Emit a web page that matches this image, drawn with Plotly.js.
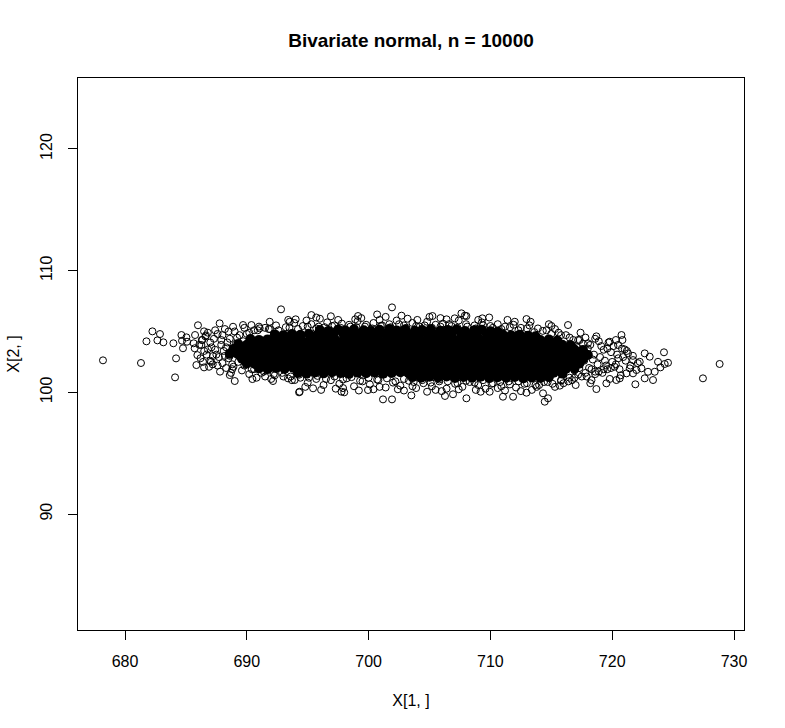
<!DOCTYPE html>
<html>
<head>
<meta charset="utf-8">
<script src="https://cdn.plot.ly/plotly-3.0.1.min.js"></script>
<style>html,body{margin:0;padding:0;background:#fff;}#plot{width:785px;height:728px;}</style>
</head>
<body>
<div id="plot"></div>
<script>
// ---- Data (estimated) ----
const chartTitle = 'Bivariate normal, n = 10000';
const xLabel = 'X[1, ]';
const yLabel = 'X[2, ]';
const xTicks = [680, 690, 700, 710, 720, 730];
const yTicks = [90, 100, 110, 120];
const xRange = [676.14, 730.82];
const yRange = [80.47, 125.83];

// isolated points around the cloud
const outX = [678.19,681.31,684.11,684.19,682.25,681.76,682.87,682.66,683.15,683.97,684.63,684.76,684.68,685.04,685.09,685.99,685.75,686.49,686.65,685.64,685.72,686.35,686.27,685.94,685.86,686.49,686.81,687.22,687.06,687.77,692.81,694.29,689.01,688.60,690.46,692.15,693.38,693.93,691.88,693.52,694.01,688.87,689.69,690.38,691.06,
701.92,705.24,707.62,708.03,709.34,707.07,699.13,695.30,712.96,701.18,701.92,706.27,706.93,708.03,703.51,711.03,711.86,694.34,695.44,697.77,699.95,709.94,712.96,
728.82,727.45,724.25,724.58,724.31,723.96,722.67,723.08,723.35,722.67,721.90,718.70,714.46,714.73,714.32,716.37,715.01,720.76,720.84,719.80,722.26,721.99,721.44,721.17,721.71,720.62,720.34,719.52,722.40,722.94,723.49,723.76,721.30,721.71,720.48,721.03,717.33,718.01];
const outY = [102.63,102.41,101.23,102.79,105.01,104.19,104.79,104.27,104.11,104.03,104.71,103.62,104.24,104.52,104.16,105.51,104.71,105.01,104.68,104.03,103.62,104.30,103.89,103.06,102.24,102.05,103.53,102.98,102.51,105.67,106.82,100.00,100.93,101.42,101.09,100.93,101.15,101.01,105.80,105.80,106.00,105.39,105.53,105.53,105.26,
106.98,106.27,106.49,106.27,106.08,106.08,106.27,106.35,106.02,99.42,99.42,99.70,99.84,99.51,99.75,99.64,99.64,100.05,100.33,100.05,100.19,100.05,99.97,
102.33,101.15,103.29,102.43,102.33,102.05,103.20,102.93,101.01,101.15,100.66,100.27,99.23,99.51,99.92,105.53,105.45,104.71,104.30,104.16,102.51,101.83,101.97,101.56,101.56,101.15,101.01,100.74,101.97,101.69,101.69,102.51,103.20,102.65,103.89,103.53,104.30,104.03];

// ragged edge of the dense band
const edgeX = [691.5,692.4,693.2,693.9,694.6,695.3,695.9,696.6,697.2,697.8,698.5,699.1,699.8,700.4,701.0,701.7,702.3,702.9,703.6,704.2,704.8,705.5,706.1,706.8,707.4,708.0,708.7,709.3,710.0,710.6,711.2,711.9,712.5,713.2,713.9,714.6,715.3,698.9,705.9,700.9,709.0,694.9,703.2,712.0,696.0,
693.0,693.7,694.4,695.0,695.7,696.3,696.9,697.6,698.2,698.8,699.5,700.1,700.7,701.4,702.0,702.6,703.3,703.9,704.5,705.2,705.8,706.4,707.1,707.7,708.3,709.0,709.6,710.2,710.9,711.5,712.1,712.8,713.4,714.0,714.7,715.3,716.0,716.7,697.3,700.4,702.9,706.0,708.8,711.2,698.0,704.8,
686.8,687.3,687.1,687.5,687.0,687.6,688.0,688.2,688.4,688.1,688.5,688.3,688.7,689.0,689.2,689.4,689.0,689.3,689.6,689.8,690.0,690.2,690.4,690.6,691.0,691.2,691.5,691.9,692.3,686.5,686.9,686.3,687.8,688.8,688.6,689.7,687.9,686.2,687.4,690.8,692.0,
716.2,716.8,717.1,716.6,717.3,716.9,717.5,717.8,718.2,717.9,718.4,718.1,718.6,718.9,719.3,719.0,719.5,719.2,719.8,720.1,720.4,720.0,720.6,720.9,721.2,720.7,721.5,718.7,717.4,716.4,715.6,719.7,718.3,720.3,721.7,722.1,715.8,716.0,
690.2,690.9,691.8,692.6,693.5,694.2,695.0,695.7,696.4,697.0,697.7,698.4,699.0,699.7,700.3,701.1,701.8,702.5,703.1,703.9,704.6,705.2,705.9,706.6,707.3,708.1,708.8,709.4,710.2,710.9,711.6,712.3,713.0,713.6,714.3,715.0,715.8,716.5,717.2,689.4,
690.6,691.4,692.2,692.9,693.6,694.3,695.1,695.8,696.5,697.2,697.9,698.6,699.3,700.0,700.8,701.5,702.2,702.9,703.7,704.4,705.1,705.8,706.5,707.3,708.0,708.7,709.4,710.1,710.8,711.6,712.3,713.0,713.7,714.4,715.1,715.8,716.5,717.2,717.9,718.6,719.3,
693.4,695.7,697.5,699.4,701.4,702.7,704.0,705.0,706.4,707.9,709.9,711.4,713.3,714.8,696.9,700.7,
694.8,696.1,697.9,699.2,700.9,702.4,703.6,705.5,707.4,709.2,710.6,712.5,713.8,715.7,717.0,718.2,
686.1,686.6,687.0,687.4,687.7,688.0,688.3,688.6,688.9,689.2,689.5,689.8,686.7,687.2,687.9,688.5,689.1,689.7,690.1,686.4,687.6,688.2,688.8,689.4,
716.4,716.7,717.0,717.3,717.7,718.0,718.3,718.5,718.8,719.1,719.4,719.6,719.9,720.2,720.5,720.8,721.1,717.6,718.9,719.6,720.3,716.9,717.8,718.6,719.9];
const edgeY = [105.30,105.50,105.35,105.70,105.45,105.60,105.40,105.75,105.50,105.65,105.40,105.85,105.55,105.70,105.45,105.60,105.90,105.50,105.70,105.40,105.80,105.55,105.65,105.45,105.90,105.60,105.50,105.75,105.45,105.60,105.40,105.55,105.30,105.50,105.25,105.10,105.20,106.00,106.10,105.95,105.95,105.90,106.05,105.80,106.05,
101.30,101.00,101.20,100.80,101.10,100.60,101.00,100.70,101.15,100.50,100.90,100.65,101.05,100.40,100.80,100.55,100.95,100.35,100.75,100.50,100.90,100.30,100.70,100.45,100.85,100.60,100.30,100.75,100.50,100.90,100.40,100.70,100.20,100.60,100.85,100.45,100.75,101.00,100.30,100.25,100.15,100.10,100.20,100.15,100.00,100.05,
104.90,104.40,103.70,103.10,102.60,102.20,104.70,105.20,104.10,103.40,102.80,102.00,101.60,105.00,104.50,103.80,103.20,102.50,101.80,105.30,104.80,101.50,101.90,105.10,105.40,101.60,101.30,105.20,101.40,103.40,102.10,104.30,101.70,102.30,103.00,104.20,103.90,102.80,105.10,101.20,101.10,
104.70,104.30,103.70,103.10,102.40,101.80,101.30,104.50,103.90,103.20,102.70,102.00,101.50,104.20,103.50,102.90,102.20,101.60,101.10,103.80,103.10,102.50,101.90,102.90,103.40,101.40,102.20,104.60,104.90,100.90,104.90,104.10,101.00,104.30,103.00,102.40,101.00,102.00,
104.90,105.10,105.20,105.10,105.30,105.20,105.40,105.25,105.35,105.45,105.30,105.55,105.35,105.40,105.25,105.50,105.35,105.60,105.30,105.45,105.50,105.30,105.40,105.60,105.30,105.40,105.25,105.50,105.30,105.20,105.35,105.10,105.25,104.95,105.05,104.80,104.70,104.50,104.30,104.70,
101.90,101.70,101.50,101.60,101.30,101.45,101.20,101.35,101.10,101.30,101.05,101.25,100.95,101.20,101.00,101.15,100.90,101.10,100.85,101.00,100.80,101.05,100.90,100.75,100.95,100.80,101.00,100.70,100.85,100.65,100.90,100.75,100.60,100.85,100.70,100.95,101.20,101.45,101.30,101.70,101.90,
105.95,106.15,105.95,106.10,106.20,106.30,105.95,106.20,106.00,106.30,106.15,105.95,105.80,105.60,106.25,106.40,
100.45,100.20,100.35,100.15,100.45,100.25,100.50,100.20,100.25,100.05,100.35,100.10,100.45,100.55,100.60,100.75,
103.90,104.60,104.10,103.50,102.90,102.40,103.70,104.40,102.10,103.50,102.90,102.20,103.10,102.30,104.30,105.00,104.00,103.50,102.60,102.50,104.80,103.00,101.90,103.00,
103.90,102.80,103.40,102.00,102.60,103.60,101.90,103.10,102.30,103.80,102.60,101.90,103.30,102.10,102.80,103.60,102.60,104.00,101.70,103.60,102.30,101.20,101.60,104.40,102.00];

// solid black core of the band (overlapping points)
const coreX = [
696.0,696.7,697.5,698.1,698.8,699.6,700.2,700.9,701.7,702.3,703.0,703.8,704.4,705.1,705.9,706.5,707.2,707.9,708.7,709.3,710.0,710.6,
692.3,693.0,693.7,694.4,695.1,695.8,696.4,697.1,697.9,698.6,699.3,700.0,700.6,701.3,702.0,702.7,703.4,704.1,704.8,705.4,706.2,706.8,707.6,708.3,708.9,709.7,710.3,711.0,711.7,712.4,713.1,713.7,
690.3,691.0,691.7,692.4,693.1,693.8,694.5,695.2,695.9,696.6,697.3,698.0,698.7,699.4,700.1,700.8,701.5,702.2,702.9,703.6,704.3,705.0,705.7,706.4,707.1,707.8,708.5,709.2,709.9,710.6,711.3,712.0,712.7,713.4,714.1,714.8,715.5,
689.3,690.0,690.7,691.4,692.1,692.8,693.5,694.2,694.9,695.6,696.3,697.0,697.7,698.4,699.1,699.8,700.5,701.2,701.9,702.6,703.3,704.0,704.7,705.4,706.1,706.8,707.5,708.2,708.9,709.6,710.3,711.0,711.7,712.4,713.1,713.8,714.5,715.2,715.9,716.6,
688.9,689.6,690.3,691.0,691.7,692.4,693.1,693.8,694.5,695.2,695.9,696.6,697.3,698.0,698.7,699.4,700.1,700.8,701.5,702.2,702.9,703.6,704.3,705.0,705.7,706.4,707.1,707.8,708.5,709.2,709.9,710.6,711.3,712.0,712.7,713.4,714.1,714.8,715.5,716.2,716.9,717.6,
688.6,689.3,690.0,690.7,691.4,692.1,692.8,693.5,694.2,694.9,695.6,696.3,697.0,697.7,698.4,699.1,699.8,700.5,701.2,701.9,702.6,703.3,704.0,704.7,705.4,706.1,706.8,707.5,708.2,708.9,709.6,710.3,711.0,711.7,712.4,713.1,713.8,714.5,715.2,715.9,716.6,717.3,718.0,
689.6,690.3,691.0,691.7,692.4,693.1,693.8,694.5,695.2,695.9,696.6,697.3,698.0,698.7,699.4,700.1,700.8,701.5,702.2,702.9,703.6,704.3,705.0,705.7,706.4,707.1,707.8,708.5,709.2,709.9,710.6,711.3,712.0,712.7,713.4,714.1,714.8,715.5,716.2,716.9,717.6,
690.0,690.7,691.4,692.1,692.8,693.5,694.2,694.9,695.6,696.3,697.0,697.7,698.4,699.1,699.8,700.5,701.2,701.9,702.6,703.3,704.0,704.7,705.4,706.1,706.8,707.5,708.2,708.9,709.6,710.3,711.0,711.7,712.4,713.1,713.8,714.5,715.2,715.9,716.6,717.3,
691.0,691.7,692.4,693.1,693.8,694.5,695.2,695.9,696.6,697.3,698.0,698.7,699.4,700.1,700.8,701.5,702.2,702.9,703.6,704.3,705.0,705.7,706.4,707.1,707.8,708.5,709.2,709.9,710.6,711.3,712.0,712.7,713.4,714.1,714.8,715.5,716.2,716.9,
694.2,694.9,695.6,696.3,697.0,697.7,698.4,699.1,699.8,700.5,701.2,701.9,702.6,703.3,704.0,704.7,705.4,706.1,706.8,707.5,708.2,708.9,709.6,710.3,711.0,711.7,712.4,713.1,713.8,714.5,715.2,715.9,
703.6,704.3,705.0,705.7,706.4,707.1,707.8,708.5,709.2,709.9,710.6,711.3,712.0,712.7,713.4,714.1,714.8];
const coreY = [
105.12,105.05,105.15,105.08,105.18,105.10,105.04,105.14,105.20,105.09,105.16,105.06,105.12,105.19,105.07,105.13,105.17,105.05,105.10,105.15,105.02,105.00,
104.76,104.70,104.79,104.73,104.82,104.74,104.68,104.77,104.84,104.72,104.80,104.69,104.75,104.83,104.71,104.78,104.74,104.67,104.81,104.73,104.77,104.70,104.79,104.74,104.66,104.80,104.72,104.76,104.69,104.74,104.65,104.60,
104.38,104.31,104.35,104.28,104.40,104.33,104.26,104.37,104.32,104.39,104.29,104.34,104.41,104.30,104.36,104.27,104.38,104.33,104.31,104.40,104.28,104.35,104.32,104.39,104.29,104.36,104.33,104.26,104.37,104.31,104.34,104.28,104.39,104.32,104.30,104.35,104.25,
103.97,103.91,104.00,103.93,104.02,103.95,103.89,103.99,103.94,104.01,103.90,103.96,104.03,103.92,103.98,103.88,104.00,103.95,103.91,104.02,103.93,103.97,103.90,104.01,103.94,103.99,103.89,103.96,104.02,103.92,103.98,103.91,104.00,103.95,103.88,103.99,103.93,104.01,103.90,103.87,
103.57,103.51,103.60,103.53,103.62,103.55,103.49,103.59,103.54,103.61,103.50,103.56,103.63,103.52,103.58,103.48,103.60,103.55,103.51,103.62,103.53,103.57,103.50,103.61,103.54,103.59,103.49,103.56,103.62,103.52,103.58,103.51,103.60,103.55,103.48,103.59,103.53,103.61,103.50,103.57,103.52,103.47,
103.17,103.11,103.20,103.13,103.22,103.15,103.09,103.19,103.14,103.21,103.10,103.16,103.23,103.12,103.18,103.08,103.20,103.15,103.11,103.22,103.13,103.17,103.10,103.21,103.14,103.19,103.09,103.16,103.22,103.12,103.18,103.11,103.20,103.15,103.08,103.19,103.13,103.21,103.10,103.17,103.12,103.15,103.07,
102.77,102.71,102.80,102.73,102.82,102.75,102.69,102.79,102.74,102.81,102.70,102.76,102.83,102.72,102.78,102.68,102.80,102.75,102.71,102.82,102.73,102.77,102.70,102.81,102.74,102.79,102.69,102.76,102.82,102.72,102.78,102.71,102.80,102.75,102.68,102.79,102.73,102.81,102.70,102.77,102.72,
102.37,102.31,102.40,102.33,102.42,102.35,102.29,102.39,102.34,102.41,102.30,102.36,102.43,102.32,102.38,102.28,102.40,102.35,102.31,102.42,102.33,102.37,102.30,102.41,102.34,102.39,102.29,102.36,102.42,102.32,102.38,102.31,102.40,102.35,102.28,102.39,102.33,102.41,102.30,102.36,
101.97,101.91,102.00,101.93,102.02,101.95,101.89,101.99,101.94,102.01,101.90,101.96,102.03,101.92,101.98,101.88,102.00,101.95,101.91,102.02,101.93,101.97,101.90,102.01,101.94,101.99,101.89,101.96,102.02,101.92,101.98,101.91,102.00,101.95,101.88,101.99,101.93,101.96,
101.60,101.54,101.63,101.56,101.65,101.58,101.52,101.62,101.57,101.64,101.53,101.59,101.66,101.55,101.61,101.51,101.63,101.58,101.54,101.65,101.56,101.60,101.53,101.64,101.57,101.62,101.52,101.59,101.65,101.55,101.61,101.54,
101.25,101.20,101.28,101.22,101.30,101.18,101.26,101.21,101.29,101.17,101.24,101.20,101.27,101.15,101.22,101.19,101.25];

// ---- Drawing ----
const FONT = 'Liberation Sans, Arial, Helvetica, sans-serif';
const openMarker = {symbol:'circle-open', size:7, color:'#000', line:{width:1, color:'#000'}};
const traces = [
  {type:'scatter', mode:'markers', x:coreX, y:coreY, hoverinfo:'skip',
   marker:{symbol:'circle', size:10, color:'#000', line:{width:0}}},
  {type:'scatter', mode:'markers', x:edgeX, y:edgeY, hoverinfo:'skip', marker:openMarker},
  {type:'scatter', mode:'markers', x:outX, y:outY, hoverinfo:'skip', marker:openMarker}
];
const axisBase = {
  showgrid:false, zeroline:false, showline:true, mirror:true,
  linecolor:'#000', linewidth:1, ticks:'outside', ticklen:9, tickwidth:1, tickcolor:'#000',
  tickfont:{family:FONT, size:16, color:'#000'}
};
const layout = {
  width:785, height:728,
  margin:{l:78, r:41, t:78, b:98},
  paper_bgcolor:'#fff', plot_bgcolor:'#fff',
  showlegend:false,
  title:{text:chartTitle, font:{family:FONT, size:19, color:'#000', weight:'bold'},
         x:0.5, xref:'paper', y:1-40/728, yref:'container', yanchor:'middle'},
  xaxis:Object.assign({}, axisBase, {
    range:xRange, tickmode:'array', tickvals:xTicks, ticktext:xTicks.map(String),
    ticklabelstandoff:8,
    title:{text:xLabel, font:{family:FONT, size:16, color:'#000'}, standoff:25}
  }),
  yaxis:Object.assign({}, axisBase, {
    range:yRange, tickmode:'array', tickvals:yTicks, ticktext:yTicks.map(String),
    tickangle:-90, ticklabelstandoff:10,
    title:{text:yLabel, font:{family:FONT, size:16, color:'#000'}, standoff:13}
  })
};
Plotly.newPlot('plot', traces, layout, {staticPlot:true, displayModeBar:false});
</script>
</body>
</html>
